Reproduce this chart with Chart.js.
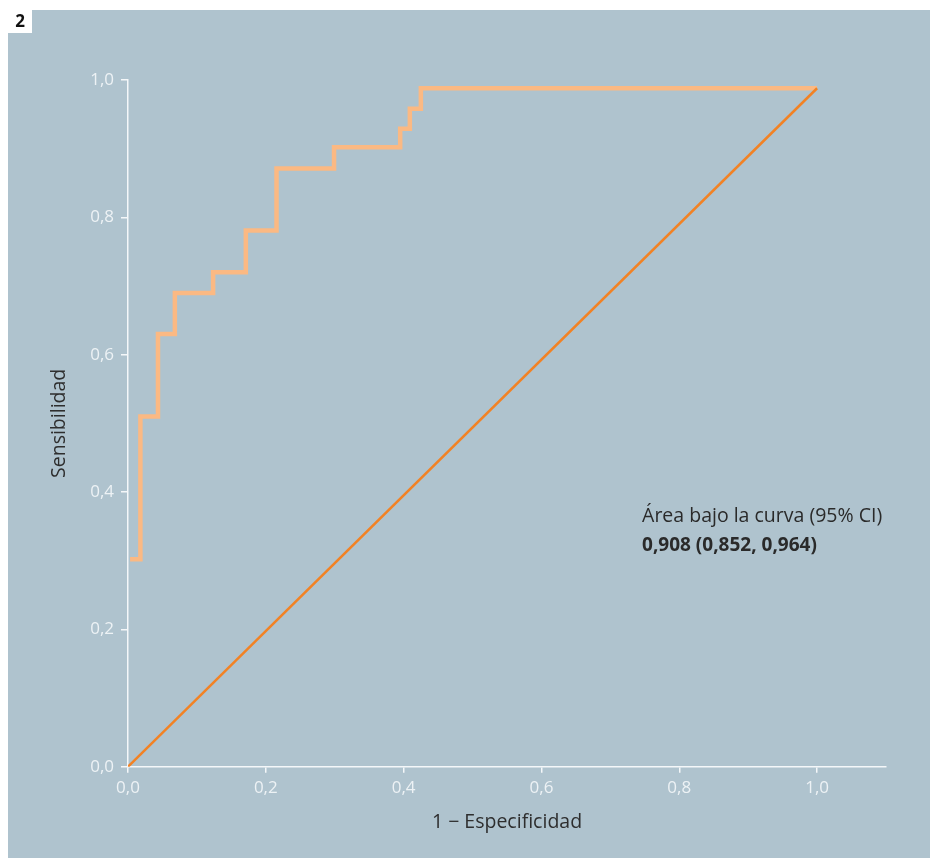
<!DOCTYPE html>
<html lang="es">
<head>
    <meta charset="UTF-8">
    <title>Curva ROC</title>
    <script src="https://cdn.jsdelivr.net/npm/chart.js@4.4.1/dist/chart.umd.min.js"></script>
    <style>
        html, body { margin: 0; padding: 0; background: #ffffff; }
        .chart-wrap { position: relative; width: 936px; height: 859px; }
    </style>
</head>
<body>
    <div class="chart-wrap">
        <canvas id="rocChart"></canvas>
    </div>
    <script>
    // ROC curve (1 - especificidad, sensibilidad)
    const rocX = [0.003, 0.018, 0.0435, 0.068, 0.1235, 0.171, 0.2155, 0.299, 0.395, 0.409, 0.425, 1.0];
    const rocY = [0.302, 0.51, 0.63, 0.69, 0.72, 0.781, 0.871, 0.902, 0.929, 0.958, 0.988, 0.988];
    // reference diagonal
    const diagX = [0.0, 1.0];
    const diagY = [0.0, 0.988];
    // ticks
    const xTicks = [0, 0.2, 0.4, 0.6, 0.8, 1.0];
    const yTicks = [0, 0.2, 0.4, 0.6, 0.8, 1.0];
    const annotationLines = ['Área bajo la curva (95% CI)', '0,908 (0,852, 0,964)'];

    const fmt = v => v.toFixed(1).replace('.', ',');

    const panelPlugin = {
        id: 'panel',
        beforeDraw(chart) {
            const ctx = chart.ctx;
            ctx.save();
            ctx.fillStyle = '#afc3ce';
            ctx.fillRect(8, 10, 922, 848);
            // figure number box
            ctx.fillStyle = '#ffffff';
            ctx.fillRect(8, 10, 24, 23);
            ctx.fillStyle = '#111111';
            ctx.font = 'bold 17px "Open Sans", sans-serif';
            ctx.textAlign = 'center';
            ctx.textBaseline = 'middle';
            ctx.fillText('2', 20, 22);
            ctx.restore();
        },
        afterDatasetsDraw(chart) {
            const ctx = chart.ctx;
            const x = chart.scales.x.getPixelForValue(0.746);
            const y = chart.scales.y.getPixelForValue(0.364);
            ctx.save();
            ctx.fillStyle = '#2a2a2a';
            ctx.textAlign = 'left';
            ctx.textBaseline = 'middle';
            ctx.font = '19.5px "Open Sans", sans-serif';
            ctx.fillText(annotationLines[0], x, y);
            ctx.font = 'bold 19px "Open Sans", sans-serif';
            ctx.fillText(annotationLines[1], x, y + 29);
            ctx.restore();
        }
    };

    new Chart(document.getElementById('rocChart'), {
        type: 'line',
        data: {
            datasets: [
                {
                    label: 'Referencia',
                    data: diagX.map((x, i) => ({ x: x, y: diagY[i] })),
                    borderColor: '#f28224',
                    borderWidth: 2.5,
                    pointRadius: 0,
                    fill: false,
                    order: 0
                },
                {
                    label: 'ROC',
                    data: rocX.map((x, i) => ({ x: x, y: rocY[i] })),
                    borderColor: '#fbb983',
                    borderWidth: 4.5,
                    pointRadius: 0,
                    stepped: 'before',
                    fill: false,
                    order: 1
                }
            ]
        },
        options: {
            responsive: true,
            maintainAspectRatio: false,
            animation: false,
            layout: { padding: { left: 40, top: 80, right: 50, bottom: 10 } },
            plugins: {
                legend: { display: false },
                tooltip: { enabled: false }
            },
            scales: {
                x: {
                    type: 'linear',
                    min: 0,
                    max: 1.1,
                    afterBuildTicks: s => { s.ticks = xTicks.map(v => ({ value: v })); },
                    afterFit: s => { s.height = 82.3; },
                    border: { display: true, color: '#f4f7f9', width: 1.5 },
                    grid: { drawOnChartArea: false, drawTicks: true, tickLength: 6, color: '#f4f7f9', lineWidth: 1.5 },
                    ticks: {
                        color: '#edf2f5',
                        padding: 5,
                        font: { family: '"Open Sans", sans-serif', size: 17 },
                        callback: v => fmt(v)
                    },
                    title: {
                        display: true,
                        text: '1 \u2212 Especificidad',
                        color: '#2e2e2e',
                        font: { family: '"Open Sans", sans-serif', size: 19.5 },
                        padding: { top: 0, bottom: 15 }
                    }
                },
                y: {
                    type: 'linear',
                    min: 0,
                    max: 1.0,
                    afterBuildTicks: s => { s.ticks = yTicks.map(v => ({ value: v })); },
                    afterFit: s => { s.width = 88; },
                    border: { display: true, color: '#f4f7f9', width: 1.5 },
                    grid: { drawOnChartArea: false, drawTicks: true, tickLength: 7, color: '#f4f7f9', lineWidth: 1.5 },
                    ticks: {
                        color: '#edf2f5',
                        padding: 7,
                        font: { family: '"Open Sans", sans-serif', size: 17 },
                        callback: v => fmt(v)
                    },
                    title: {
                        display: true,
                        text: 'Sensibilidad',
                        color: '#2e2e2e',
                        font: { family: '"Open Sans", sans-serif', size: 19.5 },
                        padding: { top: 8, bottom: 0 }
                    }
                }
            }
        },
        plugins: [panelPlugin]
    });
    </script>
</body>
</html>
